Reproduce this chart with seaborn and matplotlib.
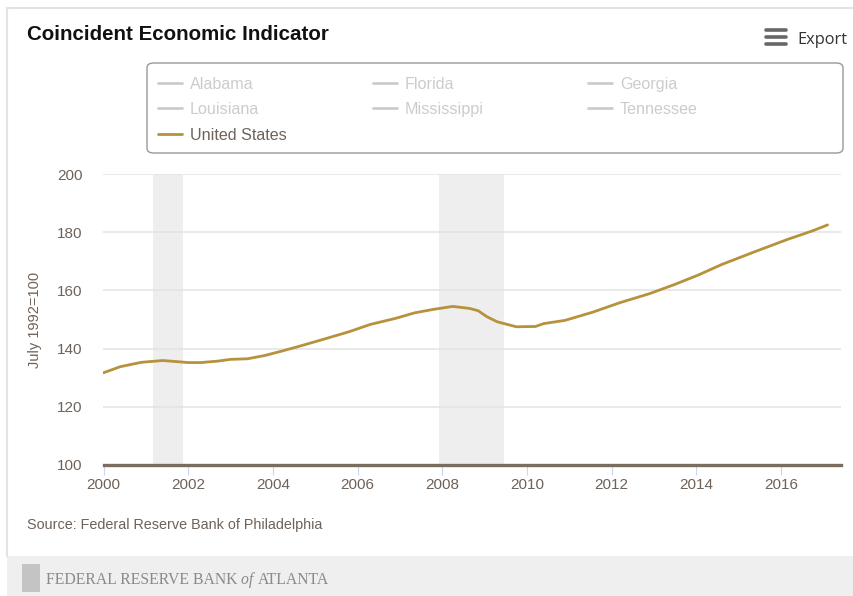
import matplotlib
matplotlib.use("Agg")
import matplotlib.pyplot as plt
import seaborn as sns
import pandas as pd
from matplotlib.patches import Rectangle, FancyBboxPatch
from matplotlib.lines import Line2D

# Data (index, July 1992 = 100)
years = [2000.0, 2000.4, 2000.9, 2001.4, 2001.75, 2002.0, 2002.3, 2002.7, 2003.0,
         2003.4, 2003.8, 2004.2, 2004.6, 2005.1, 2005.8, 2006.3, 2006.9, 2007.35,
         2007.8, 2008.25, 2008.65, 2008.85, 2009.05, 2009.3, 2009.75, 2010.2,
         2010.4, 2010.9, 2011.55, 2012.2, 2012.9, 2013.5, 2014.05, 2014.6,
         2015.4, 2016.15, 2016.75, 2017.1]
us_index = [131.7, 133.8, 135.3, 135.9, 135.5, 135.2, 135.2, 135.7, 136.3,
            136.5, 137.6, 139.1, 140.7, 142.8, 145.8, 148.3, 150.4, 152.3,
            153.5, 154.5, 153.8, 153.0, 151.0, 149.2, 147.5, 147.6,
            148.6, 149.7, 152.5, 155.8, 158.9, 162.1, 165.3, 168.9,
            173.4, 177.5, 180.5, 182.5]

recession_start = [2001.17, 2007.92]
recession_end = [2001.88, 2009.45]

legend_names = ["Alabama", "Florida", "Georgia",
                "Louisiana", "Mississippi", "Tennessee",
                "United States"]
legend_active = [False, False, False, False, False, False, True]

x_ticks = [2000, 2002, 2004, 2006, 2008, 2010, 2012, 2014, 2016]
y_ticks = [100, 120, 140, 160, 180, 200]

GOLD = "#b5923b"
TXT = "#6e6259"
OFF = "#cccccc"

sns.set_style("white")
plt.rcParams["font.family"] = ["Liberation Sans", "DejaVu Sans"]

W, H = 854, 596
fig = plt.figure(figsize=(W / 100, H / 100), dpi=100)
fig.patch.set_facecolor("white")


def fx(px):
    return px / W


def fy(py):
    return 1 - py / H


# card borders and footer band
fig.add_artist(Line2D([fx(7), fx(7)], [fy(8), fy(556)], color="#e3e3e3", lw=1.5))
fig.add_artist(Line2D([fx(7), 1], [fy(8), fy(8)], color="#e3e3e3", lw=1.5))
fig.add_artist(Rectangle((fx(7), 0), 1 - fx(7), fy(556), facecolor="#efefef",
                         edgecolor="none", transform=fig.transFigure))

ax = fig.add_axes([fx(103.5), fy(465), fx(737.2), (465 - 174) / H])
df = pd.DataFrame({"year": years, "value": us_index})

for s, e in zip(recession_start, recession_end):
    ax.axvspan(s, e, color="#eeeeee", lw=0, zorder=0)

sns.lineplot(data=df, x="year", y="value", color=GOLD, linewidth=2.0, ax=ax, zorder=3)

ax.set_xlim(2000, 2017.41)
ax.set_ylim(100, 200)
ax.set_xticks(x_ticks)
ax.set_yticks(y_ticks)
ax.set_xticklabels([str(t) for t in x_ticks])
ax.yaxis.grid(True, color="#e3e3e3", lw=1.1)
ax.xaxis.grid(False)
for side in ["top", "right", "left"]:
    ax.spines[side].set_visible(False)
ax.spines["bottom"].set_color("#7a6c5f")
ax.spines["bottom"].set_linewidth(2.4)
ax.spines["bottom"].set_zorder(4)
ax.tick_params(axis="x", direction="out", length=7.5, width=0.8, color="#ccd6eb",
               labelsize=11, labelcolor=TXT, pad=2, bottom=True)
ax.tick_params(axis="y", length=0, labelsize=11, labelcolor=TXT, pad=15)
ax.set_xlabel("")
ax.set_ylabel("July 1992=100", fontsize=10.5, color=TXT)
ax.yaxis.set_label_coords(-0.084, 0.5)

# title and export button
fig.text(fx(27), fy(34), "Coincident Economic Indicator", fontsize=14.8,
         fontweight="bold", color="#111111", va="center", ha="left")
for yy in [30, 37, 44]:
    fig.add_artist(Line2D([fx(766), fx(786)], [fy(yy), fy(yy)], color="#666666",
                          lw=2.6, solid_capstyle="round"))
fig.text(fx(797), fy(38), "Export", fontsize=11.8, color="#333333",
         va="center_baseline", ha="left", family=["Open Sans", "DejaVu Sans"])

# legend box (series toggles)
fig.add_artist(FancyBboxPatch((fx(147), fy(153)), fx(843 - 147), (153 - 63) / H,
                              boxstyle="round,pad=0,rounding_size=0.008",
                              facecolor="white", edgecolor="#999999", lw=1,
                              transform=fig.transFigure))
col_x = [158, 373, 588]
row_y = [83, 108, 134]
for i, (name, active) in enumerate(zip(legend_names, legend_active)):
    cx = col_x[i % 3]
    cy = row_y[i // 3]
    fig.add_artist(Line2D([fx(cx), fx(cx + 24)], [fy(cy), fy(cy)],
                          color=GOLD if active else OFF, lw=2))
    fig.text(fx(cx + 32), fy(cy), name, fontsize=11.6, color=TXT if active else OFF,
             va="center_baseline", ha="left")

# source and footer
fig.text(fx(27), fy(525), "Source: Federal Reserve Bank of Philadelphia",
         fontsize=10.4, color=TXT, va="center", ha="left")
fig.add_artist(Rectangle((fx(22), fy(592)), fx(18), 28 / H, facecolor="#c4c4c4",
                         edgecolor="none", transform=fig.transFigure))
t1 = fig.text(fx(46), fy(578), "FEDERAL RESERVE BANK ", fontsize=11.3,
              color="#8a8a8a", va="center_baseline", ha="left",
              family="Liberation Serif")
fig.canvas.draw()
r = fig.canvas.get_renderer()
bb = t1.get_window_extent(r)
t2 = fig.text(bb.x1 / W, fy(578), "of ", fontsize=11.3, style="italic",
              color="#8a8a8a", va="center_baseline", ha="left",
              family="Liberation Serif")
bb2 = t2.get_window_extent(r)
fig.text(bb2.x1 / W, fy(578), "ATLANTA", fontsize=11.3, color="#8a8a8a",
         va="center_baseline", ha="left", family="Liberation Serif")

fig.savefig("out.png", dpi=100)
